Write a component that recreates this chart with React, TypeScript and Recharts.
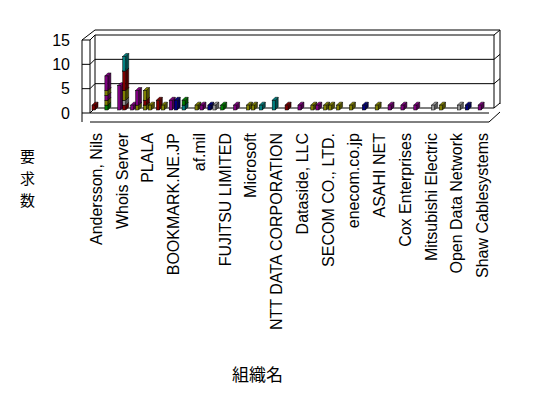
import { BarChart, Bar, XAxis, YAxis, ReferenceArea } from "recharts";

// only every other organization is labelled in the original
const organizations = [
  "Andersson, Nils", "", "Whois Server", "", "PLALA", "", "BOOKMARK.NE.JP", "",
  "af.mil", "", "FUJITSU LIMITED", "", "Microsoft", "", "NTT DATA CORPORATION", "",
  "Dataside, LLC", "", "SECOM CO., LTD.", "", "enecom.co.jp", "", "ASAHI NET", "",
  "Cox Enterprises", "", "Mitsubishi Electric", "", "Open Data Network", "", "Shaw Cablesystems",
];

const yTicks = [0, 5, 10, 15];

// left column of each organization, bottom to top
const leftDarkRed =  [1, 0, 0, 0, 0, 2, 0, 0, 0, 0, 0, 0, 0, 0, 0, 1, 0, 0, 0, 0, 0, 0, 0, 0, 0, 0, 0, 0, 0, 0, 0];
const leftTeal =     [0, 0, 0, 0, 0, 0, 0, 1, 0, 0, 0, 0, 0, 1, 2, 0, 0, 0, 0, 0, 0, 0, 0, 0, 0, 0, 0, 0, 0, 0, 0];
const leftGreen =    [0, 1, 0, 0, 0, 0, 0, 1, 0, 0, 1, 0, 0, 0, 0, 0, 0, 0, 0, 0, 0, 0, 0, 0, 0, 0, 0, 0, 0, 0, 0];
const leftOlive =    [0, 1, 0, 0, 1, 0, 0, 0, 1, 0, 0, 0, 1, 0, 0, 0, 0, 1, 1, 1, 1, 0, 1, 0, 0, 0, 0, 1, 0, 0, 0];
const leftNavy =     [0, 0, 0, 0, 0, 0, 0, 0, 0, 1, 0, 0, 0, 0, 0, 0, 0, 0, 0, 0, 0, 1, 0, 0, 0, 0, 0, 0, 0, 1, 0];
const leftPurple =   [0, 1, 5, 1, 0, 0, 2, 0, 0, 0, 0, 1, 0, 0, 0, 0, 1, 0, 0, 0, 0, 0, 0, 1, 1, 1, 0, 0, 0, 0, 1];
const leftDarkRed2 = [0, 0, 0, 0, 1, 0, 0, 0, 0, 0, 0, 0, 0, 0, 0, 0, 0, 0, 0, 0, 0, 0, 0, 0, 0, 0, 0, 0, 0, 0, 0];
const leftOlive2 =   [0, 1, 0, 0, 2, 0, 0, 0, 0, 0, 0, 0, 0, 0, 0, 0, 0, 0, 0, 0, 0, 0, 0, 0, 0, 0, 0, 0, 0, 0, 0];
const leftPurple2 =  [0, 3, 0, 0, 0, 0, 0, 0, 0, 0, 0, 0, 0, 0, 0, 0, 0, 0, 0, 0, 0, 0, 0, 0, 0, 0, 0, 0, 0, 0, 0];

// right column
const rightDarkRed =  [0, 0, 1, 0, 0, 0, 0, 0, 0, 0, 0, 0, 0, 0, 0, 0, 0, 0, 0, 0, 0, 0, 0, 0, 0, 0, 0, 0, 0, 0, 0];
const rightGray =     [0, 0, 1, 0, 0, 0, 0, 0, 0, 1, 0, 0, 0, 0, 0, 0, 0, 0, 0, 0, 0, 0, 0, 0, 0, 0, 1, 0, 1, 0, 0];
const rightOlive =    [0, 0, 2, 1, 1, 1, 0, 0, 0, 0, 0, 0, 1, 0, 0, 0, 0, 0, 1, 0, 0, 0, 0, 0, 0, 0, 0, 0, 0, 0, 0];
const rightDarkRed2 = [0, 0, 4, 0, 0, 0, 0, 0, 0, 0, 0, 0, 0, 0, 0, 0, 0, 0, 0, 0, 0, 0, 0, 0, 0, 0, 0, 0, 0, 0, 0];
const rightTeal =     [0, 0, 3, 0, 0, 0, 0, 0, 0, 0, 0, 0, 0, 0, 0, 0, 0, 0, 0, 0, 0, 0, 0, 0, 0, 0, 0, 0, 0, 0, 0];
const rightPurple =   [0, 0, 0, 3, 0, 0, 0, 0, 1, 0, 0, 0, 0, 0, 0, 0, 0, 1, 0, 0, 0, 0, 0, 0, 0, 0, 0, 0, 0, 0, 0];
const rightNavy =     [0, 0, 0, 0, 0, 0, 2, 0, 0, 0, 0, 0, 0, 0, 0, 0, 0, 0, 0, 0, 0, 0, 0, 0, 0, 0, 0, 0, 0, 0, 0];

const DARK_RED = "#800000";
const TEAL = "#008080";
const GREEN = "#008000";
const OLIVE = "#808000";
const NAVY = "#000080";
const PURPLE = "#800080";
const GRAY = "#969696";

const series = [
  { key: "l1", values: leftDarkRed, color: DARK_RED, stack: "left" },
  { key: "l2", values: leftTeal, color: TEAL, stack: "left" },
  { key: "l3", values: leftGreen, color: GREEN, stack: "left" },
  { key: "l4", values: leftOlive, color: OLIVE, stack: "left" },
  { key: "l5", values: leftNavy, color: NAVY, stack: "left" },
  { key: "l6", values: leftPurple, color: PURPLE, stack: "left" },
  { key: "l7", values: leftDarkRed2, color: DARK_RED, stack: "left" },
  { key: "l8", values: leftOlive2, color: OLIVE, stack: "left" },
  { key: "l9", values: leftPurple2, color: PURPLE, stack: "left" },
  { key: "r1", values: rightDarkRed, color: DARK_RED, stack: "right" },
  { key: "r2", values: rightGray, color: GRAY, stack: "right" },
  { key: "r3", values: rightOlive, color: OLIVE, stack: "right" },
  { key: "r4", values: rightDarkRed2, color: DARK_RED, stack: "right" },
  { key: "r5", values: rightTeal, color: TEAL, stack: "right" },
  { key: "r6", values: rightPurple, color: PURPLE, stack: "right" },
  { key: "r7", values: rightNavy, color: NAVY, stack: "right" },
];

const data = organizations.map((name, i) => {
  const row: Record<string, string | number> = { name, idx: i };
  series.forEach((s) => (row[s.key] = s.values[i]));
  return row;
});

const edgeTicks = Array.from({ length: organizations.length + 1 }, (_, i) => i);

const FONT = "'Liberation Sans', Arial, sans-serif";
const JP_FONT = "'Noto Sans CJK JP', sans-serif";
const Y_MAX = yTicks[yTicks.length - 1];

function darken(hex: string) {
  const n = parseInt(hex.slice(1), 16);
  const f = (v: number) => Math.round(v * 0.6);
  const r = f((n >> 16) & 255), g = f((n >> 8) & 255), b = f(n & 255);
  return `rgb(${r},${g},${b})`;
}

// thin 3d column, sitting a little back on the floor
function Column3D(props: any) {
  const { x, y, width, height, fill } = props;
  if (!height || height <= 0) return null;
  const d = 3;
  const top = y - 3;
  const bot = top + height;
  const right = x + width;
  return (
    <g stroke="#000" strokeWidth={0.5}>
      <polygon
        points={`${right},${top} ${right + d},${top - d} ${right + d},${bot - d} ${right},${bot}`}
        fill={darken(fill)}
      />
      <polygon
        points={`${x},${top} ${x + d},${top - d} ${right + d},${top - d} ${right},${top}`}
        fill={fill}
      />
      <rect x={x} y={top} width={width} height={height} fill={fill} />
    </g>
  );
}

function Frame(props: any) {
  const { x, y, width, height } = props;
  const bottom = y + height;
  const at = (v: number) => bottom - (v / Y_MAX) * height;
  const right = x + width;
  const dx = 5;
  const dy = 5;
  const lines: [number, number, number, number][] = [];
  // left slab and axis
  lines.push([x - 8, y, x - 8, bottom + 9]);
  lines.push([x, y, x, bottom]);
  yTicks.forEach((v) => {
    const yy = at(v);
    lines.push([x - 8, yy, x, yy]);
    lines.push([x, yy, x + dx, yy - dy]);
    lines.push([x + dx, yy - dy, right + dx, yy - dy]);
    lines.push([right + dx, yy - dy, right + dx + 6, yy - dy - 5]);
  });
  // back wall edges and top
  lines.push([x + dx, y - dy, x + dx, bottom - dy]);
  lines.push([x - 8, y, x + dx, y - dy - 5]);
  lines.push([x + dx, y - dy - 5, right + dx + 6, y - dy - 5]);
  lines.push([right + dx, y - dy, right + dx, bottom - dy]);
  lines.push([right + dx + 6, y - dy - 5, right + dx + 6, bottom - dy - 4]);
  // floor corner
  lines.push([right, bottom + 9, right + dx + 6, bottom - 1]);
  return (
    <g stroke="#000" strokeWidth={1} fill="none">
      {lines.map(([x1, y1, x2, y2], i) => (
        <line key={i} x1={x1} y1={y1} x2={x2} y2={y2} />
      ))}
    </g>
  );
}

function OrgTick({ x, y, payload }: any) {
  if (!payload.value) return null;
  return (
    <text
      x={x}
      y={y}
      transform={`rotate(-90, ${x}, ${y})`}
      textAnchor="end"
      dominantBaseline="central"
      fontSize={16}
      fontFamily={FONT}
      fill="#000"
    >
      {payload.value}
    </text>
  );
}

export default function App() {
  return (
    <div style={{ position: "relative", width: 540, height: 388, background: "#fff" }}>
      <BarChart
        width={540}
        height={388}
        data={data}
        margin={{ top: 32, right: 59, bottom: 5, left: 42 }}
        barSize={3}
        barGap={2}
      >
        <XAxis
          xAxisId={0}
          type="number"
          dataKey="idx"
          domain={[0, organizations.length]}
          ticks={edgeTicks}
          tick={false}
          tickSize={9}
          height={9}
          axisLine={{ stroke: "#000" }}
          tickLine={{ stroke: "#000" }}
          allowDataOverflow
        />
        <XAxis
          xAxisId={1}
          dataKey="name"
          interval={0}
          tick={<OrgTick />}
          tickLine={false}
          tickSize={0}
          tickMargin={11}
          height={269}
          axisLine={{ stroke: "#000" }}
        />
        <YAxis
          domain={[0, Y_MAX]}
          ticks={yTicks}
          width={40}
          axisLine={false}
          tickLine={false}
          tickSize={0}
          tickMargin={20}
          tick={{ fontSize: 16, fill: "#000", fontFamily: FONT }}
        />
        <ReferenceArea
          xAxisId={0}
          x1={0}
          x2={organizations.length}
          y1={0}
          y2={Y_MAX}
          shape={<Frame />}
          ifOverflow="visible"
        />
        {series.map((s) => (
          <Bar
            key={s.key}
            xAxisId={1}
            dataKey={s.key}
            stackId={s.stack}
            fill={s.color}
            shape={<Column3D />}
            isAnimationActive={false}
          />
        ))}
      </BarChart>
      <div
        style={{
          position: "absolute",
          left: 12,
          top: 137,
          fontSize: 15,
          lineHeight: "22px",
          fontFamily: JP_FONT,
          color: "#000",
        }}
      >
        要<br />求<br />数
      </div>
      <div
        style={{
          position: "absolute",
          left: 224,
          top: 356,
          fontSize: 17,
          lineHeight: "20px",
          fontFamily: JP_FONT,
          color: "#000",
        }}
      >
        組織名
      </div>
    </div>
  );
}
